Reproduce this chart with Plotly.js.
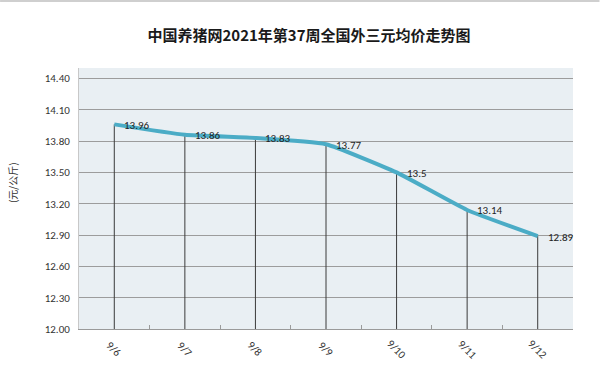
<!DOCTYPE html>
<html>
<head>
<meta charset="utf-8">
<script src="https://cdn.plot.ly/plotly-3.0.1.min.js"></script>
<style>html,body{margin:0;padding:0;background:#fff;}#chart{width:600px;height:389px;}</style>
</head>
<body>
<div id="chart"></div>
<script>
const chartTitle = "中国养猪网2021年第37周全国外三元均价走势图";
const yAxisLabel = "(元/公斤)";
const dates = ["9/6", "9/7", "9/8", "9/9", "9/10", "9/11", "9/12"];
const prices = [13.96, 13.86, 13.83, 13.77, 13.5, 13.14, 12.89];
const yTickValues = [12.00, 12.30, 12.60, 12.90, 13.20, 13.50, 13.80, 14.10, 14.40];
const yMin = 12.0, yMax = 14.5;

const W = 600, H = 389;
const M = {l: 79, r: 26.5, t: 68, b: 60};
const plotW = W - M.l - M.r;
const plotH = H - M.t - M.b;
const baseFont = "Carlito, 'Liberation Sans Narrow', 'Noto Sans', sans-serif";

const lineTrace = {
  type: 'scatter',
  mode: 'lines',
  x: dates,
  y: prices,
  line: {color: '#4BACC6', width: 4, shape: 'spline', smoothing: 0.4},
  error_y: {
    type: 'data', symmetric: false,
    array: prices.map(() => 0),
    arrayminus: prices.map(v => v - yMin),
    width: 0, thickness: 1, color: '#3a3a3a'
  },
  hoverinfo: 'x+y',
  showlegend: false
};

const annotations = [];
prices.forEach((v, i) => {
  annotations.push({
    x: dates[i], y: v, xref: 'x', yref: 'y',
    text: String(v), showarrow: false,
    xanchor: 'left', yanchor: 'middle', xshift: 8, yshift: -1,
    font: {family: baseFont, size: 11, color: '#222'}
  });
});
dates.forEach(d => {
  annotations.push({
    x: d, y: 0, xref: 'x', yref: 'paper',
    text: d, showarrow: false, textangle: 45,
    xanchor: 'center', yanchor: 'middle', yshift: -20,
    font: {family: baseFont, size: 11, color: '#333'}
  });
});
annotations.push({
  x: (12 - M.l) / plotW, y: (H - M.b - 183) / plotH,
  xref: 'paper', yref: 'paper',
  text: yAxisLabel, showarrow: false, textangle: -90,
  xanchor: 'center', yanchor: 'middle',
  font: {family: "'Noto Sans CJK SC', sans-serif", size: 10, color: '#333'}
});

const layout = {
  width: W, height: H,
  margin: M,
  paper_bgcolor: '#ffffff',
  plot_bgcolor: '#E9EFF3',
  title: {
    text: chartTitle,
    font: {family: "'Noto Sans CJK SC', sans-serif", size: 15, color: '#1a1a1a', weight: 'bold'},
    xref: 'container', yref: 'container',
    x: 309 / W, y: 1 - 35.5 / H, xanchor: 'center', yanchor: 'middle'
  },
  xaxis: {
    type: 'category',
    range: [-0.5, dates.length - 0.5],
    showticklabels: false,
    showgrid: false,
    zeroline: false,
    showline: true, linecolor: '#9a9a9a', linewidth: 1,
    ticks: 'inside', tickson: 'boundaries', ticklen: 4, tickcolor: '#9a9a9a'
  },
  yaxis: {
    range: [yMin, yMax],
    tickvals: yTickValues,
    ticktext: yTickValues.map(v => v.toFixed(2)),
    showgrid: true, gridcolor: '#9c9c9c', gridwidth: 1,
    zeroline: false,
    showline: true, linecolor: '#c8c8c8', linewidth: 1,
    ticks: '', ticklabelstandoff: 6,
    tickfont: {family: baseFont, size: 11, color: '#333'}
  },
  shapes: [{
    type: 'line', xref: 'paper', yref: 'paper',
    x0: -M.l / plotW, x1: 1 + M.r / plotW,
    y0: 1 + (M.t - 1) / plotH, y1: 1 + (M.t - 1) / plotH,
    line: {color: '#cfcfcf', width: 2}
  }],
  annotations: annotations
};

Plotly.newPlot('chart', [lineTrace], layout, {displayModeBar: false, staticPlot: true});
</script>
</body>
</html>
